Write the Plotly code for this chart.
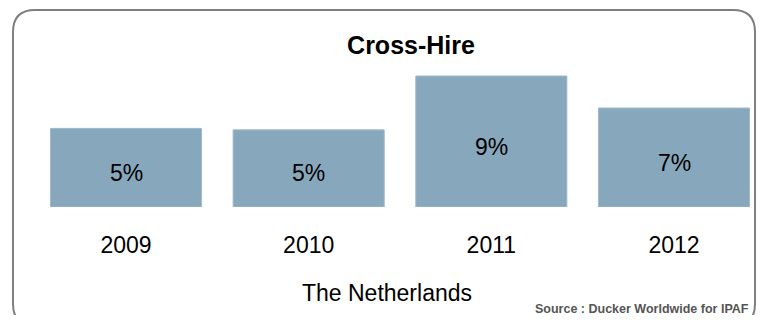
import plotly.graph_objects as go

years = ["2009", "2010", "2011", "2012"]
share = [5.4, 5.3, 9.0, 6.8]          # % of fleet cross-hired (bar heights)
share_labels = ["5%", "5%", "9%", "7%"]
title_text = "Cross-Hire"
axis_title = "The Netherlands"
source_text = "Source : Ducker Worldwide for IPAF"

OFF = 8                      # browser body margin
W, H = 764 - 2 * OFF, 323 - 2 * OFF
L = 10                       # left margin (centres the axis title like the reference)
PLOT_TOP, PLOT_BOT = 60 - OFF, 207 - OFF   # pixel rows of the plot area
FONT = "Liberation Sans, Arial"

def px_x(px):
    return (px - OFF - L) / (W - L)

def px_y(py):
    return (PLOT_BOT - (py - OFF)) / (PLOT_BOT - PLOT_TOP)

fig = go.Figure(go.Bar(
    x=years, y=share,
    width=0.827,
    marker=dict(color="#87A8BC", line=dict(color="#9DB9CA", width=1)),
    hoverinfo="skip",
))

label_ann = [dict(x=i, y=v / 2, xref="x", yref="y", text=lab, showarrow=False,
                  yshift=-5, font=dict(family=FONT, size=23, color="#000000"))
             for i, (v, lab) in enumerate(zip(share, share_labels))]

# rounded frame (bottom edge lies below the visible area, as in the reference)
x0, x1 = px_x(13), px_x(755)
y0, y1 = px_y(326), px_y(10)
rx, ry = 22 / (W - L), 22 / (PLOT_BOT - PLOT_TOP)
path = (f"M {x0+rx} {y1} L {x1-rx} {y1} Q {x1} {y1} {x1} {y1-ry} "
        f"L {x1} {y0+ry} Q {x1} {y0} {x1-rx} {y0} "
        f"L {x0+rx} {y0} Q {x0} {y0} {x0} {y0+ry} "
        f"L {x0} {y1-ry} Q {x0} {y1} {x0+rx} {y1} Z")

# x-range so that category centres land at pixel columns 126 .. 674
c0, c3 = 126 - OFF - L, 674 - OFF - L
ppu = (c3 - c0) / 3
xr = [-c0 / ppu, 3 + (W - L - c3) / ppu]

fig.update_layout(
    width=W, height=H,
    margin=dict(l=L, r=0, t=PLOT_TOP, b=H - PLOT_BOT, pad=0),
    paper_bgcolor="white", plot_bgcolor="white",
    showlegend=False,
    title=dict(text=f"<b>{title_text}</b>", x=(411 - OFF) / W, xanchor="center",
               y=1 - (45 - OFF) / H, yanchor="middle",
               font=dict(family=FONT, size=25, color="#000000")),
    xaxis=dict(type="category", range=xr, showgrid=False, showline=False,
               zeroline=False, ticks="", ticklabelstandoff=22,
               tickfont=dict(family=FONT, size=23, color="#000000"),
               title=dict(text=axis_title, standoff=27,
                          font=dict(family=FONT, size=23, color="#000000"))),
    yaxis=dict(range=[0, 10.1], visible=False),
    shapes=[dict(type="path", path=path, xref="paper", yref="paper",
                 line=dict(color="#7F7F7F", width=2), fillcolor="rgba(0,0,0,0)")],
    annotations=label_ann + [
        dict(text=f"<b>{source_text}</b>", x=px_x(751), y=px_y(309),
             xref="paper", yref="paper", xanchor="right", yanchor="middle",
             showarrow=False, font=dict(family=FONT, size=12.5, color="#555555"))],
)

fig.write_html("out.html")
